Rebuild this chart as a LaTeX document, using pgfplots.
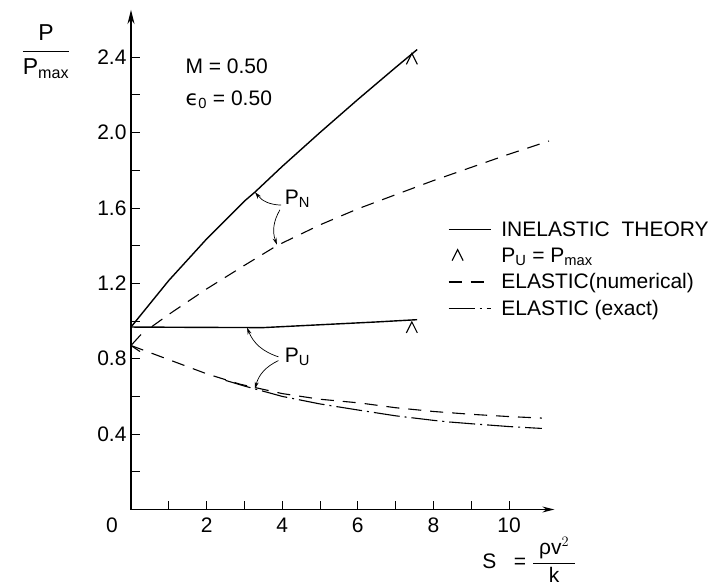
\documentclass[border=0pt]{standalone}
\usepackage{fontspec}
\setmainfont{Liberation Sans}
\newfontfamily\dejavu{DejaVu Sans}
\usepackage{amsmath}
\usepackage{pgfplots}
\pgfplotsset{compat=1.18}
\usetikzlibrary{arrows.meta}

% ^ mark: vertex on the point, arms hanging down
\pgfdeclareplotmark{caret}{%
  \pgfpathmoveto{\pgfqpoint{-5.5pt}{-11pt}}%
  \pgfpathlineto{\pgfqpoint{0pt}{0pt}}%
  \pgfpathlineto{\pgfqpoint{5.5pt}{-11pt}}%
  \pgfusepathqstroke}
% < mark at the start of the lower elastic curve
\pgfdeclareplotmark{lcaret}{%
  \pgfpathmoveto{\pgfqpoint{10pt}{11pt}}%
  \pgfpathlineto{\pgfqpoint{0pt}{0pt}}%
  \pgfpathlineto{\pgfqpoint{9pt}{-6pt}}%
  \pgfusepathqstroke}
\pgfplotsset{caret legend/.style={legend image code/.code={\draw[##1] plot coordinates {(9pt,6pt)};}}}

\begin{document}
\begin{tikzpicture}
\path[use as bounding box] (-131pt,-77.5pt) rectangle (581pt,509.5pt);
\begin{axis}[
    at={(0pt,0pt)}, anchor=origin,
    x=37.8pt, y=188.5pt,
    xmin=0, xmax=11.2, ymin=0, ymax=2.65,
    axis lines=left,
    axis line style={line width=1.2pt},
    x axis line style={-{Stealth[length=12pt,width=6pt]}},
    y axis line style={-{Stealth[length=14pt,width=7pt]}},
    clip=false,
    font=\fontsize{21}{25}\selectfont,
    /pgf/number format/assume math mode=true,
    xtick={2,4,6,8,10},
    minor xtick={1,3,5,7,9},
    extra x ticks={0},
    extra x tick style={xticklabel style={xshift=-19pt}},
    ytick={0.4,0.8,1.2,1.6,2.0,2.4},
    yticklabels={0.4,0.8,1.2,1.6,2.0,2.4},
    minor ytick={0.2,0.6,1.0,1.4,1.8,2.2},
    tick align=inside,
    major tick length=9pt, minor tick length=9pt,
    tick style={line width=0.8pt, black},
    xticklabel style={yshift=-5pt},
    yticklabel style={xshift=-1pt},
    legend style={draw=none, fill=none, at={(axis cs:8.3,1.55)}, anchor=north west,
      font=\fontsize{21}{25}\selectfont, row sep=6pt, column sep=8pt},
    legend cell align=left,
    legend image code/.code={\draw[#1] (0pt,0pt) -- (42pt,0pt);},
  ]
  % inelastic theory, upper (P_N) and lower (P_U)
  \addplot[black, line width=1.4pt] coordinates {
    (0,0.968) (1,1.215) (2,1.435) (3,1.636) (3.28,1.684) (4,1.82)
    (5,2.0) (6,2.175) (7,2.345) (7.57,2.44)
  };
  \addlegendentry{INELASTIC\ \ THEORY}
  % P_U = P_max marks
  \addplot[only marks, mark=caret, line width=1.1pt, black, caret legend]
    coordinates {(7.43,2.42) (7.43,0.995)};
  \addlegendentry{P\textsubscript{U} = P\textsubscript{max}}
  % elastic numerical
  \addplot[black, line width=1.1pt, dash pattern=on 13pt off 9pt] coordinates {
    (0.55,0.97) (1,1.035) (2,1.17) (3,1.295) (3.86,1.40) (5,1.51)
    (6,1.595) (7,1.67) (8,1.745) (9,1.815) (10,1.885) (11.06,1.955)
  };
  \addlegendentry{ELASTIC(numerical)}
  % elastic exact
  \addplot[black, line width=1.1pt, dash pattern=on 26pt off 5pt on 2pt off 5pt] coordinates {
    (2.5,0.685) (3,0.655) (4,0.6) (5,0.56) (6,0.528) (7,0.497)
    (8,0.473) (8.44,0.464) (9,0.455) (10,0.44) (10.87,0.43)
  };
  \addlegendentry{ELASTIC (exact)}
  % lower branches
  \addplot[black, line width=1.4pt, forget plot] coordinates {
    (0,0.968) (1,0.967) (2,0.966) (3.5,0.965) (4.5,0.975) (5.5,0.985)
    (6.5,0.995) (7.57,1.007)
  };
  \addplot[black, line width=1.1pt, dash pattern=on 13pt off 9pt, forget plot] coordinates {
    (0,0.87) (1,0.795) (2,0.72) (2.88,0.665) (4,0.615) (5,0.585)
    (6.06,0.565) (7,0.54) (8,0.52) (9,0.505) (10,0.493) (10.87,0.485)
  };
  \addplot[only marks, mark=lcaret, line width=1.1pt, black, forget plot]
    coordinates {(0,0.87)};

  % annotations
  \node[anchor=west] at (axis cs:1.35,2.353) {M = 0.50};
  \node[anchor=west] at (axis cs:1.35,2.172) {{\dejavu ϵ}\textsubscript{0} = 0.50};
  \node[font=\fontsize{23}{27}\selectfont] at (axis cs:-2.25,2.43)
    {$\dfrac{\text{P}}{\text{P}_{\text{max}}}$};
  \node[anchor=west] at (axis cs:9.2,-0.268)
    {S\ \ \ =\ $\dfrac{\hspace{6pt}\text{ρv}^2\hspace{6pt}}{\text{k}}$};
  \node at (axis cs:4.4,1.65) {P\textsubscript{N}};
  \node at (axis cs:4.4,0.81) {P\textsubscript{U}};
  \draw[-{Stealth[length=7pt,width=4pt]}, line width=0.7pt]
    (axis cs:3.97,1.615) to[bend left=25] (axis cs:3.28,1.684);
  \draw[-{Stealth[length=7pt,width=4pt]}, line width=0.7pt]
    (axis cs:3.94,1.59) to[bend right=25] (axis cs:3.86,1.405);
  \draw[-{Stealth[length=7pt,width=4pt]}, line width=0.7pt]
    (axis cs:3.9,0.81) to[bend left=25] (axis cs:3.07,0.965);
  \draw[-{Stealth[length=7pt,width=4pt]}, line width=0.7pt]
    (axis cs:3.9,0.79) to[bend right=25] (axis cs:3.28,0.64);
\end{axis}
\end{tikzpicture}
\end{document}
